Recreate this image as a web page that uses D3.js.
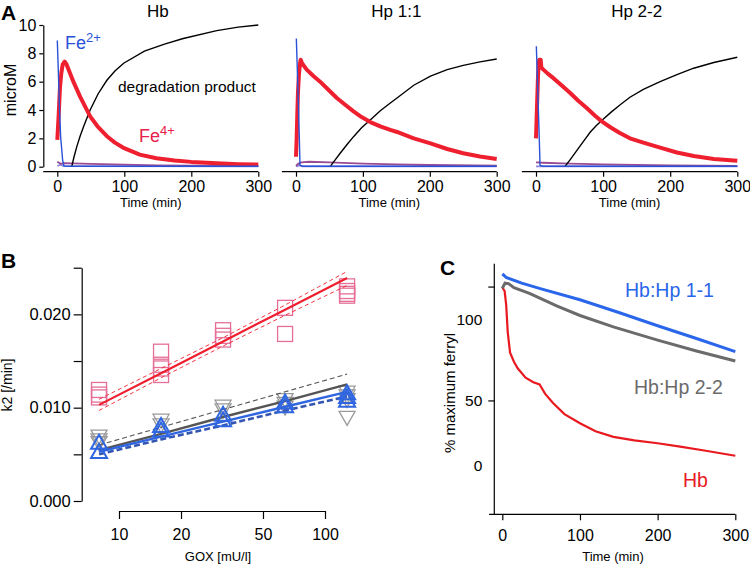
<!DOCTYPE html>
<html><head><meta charset="utf-8">
<script src="https://cdn.jsdelivr.net/npm/d3@7"></script>
<style>
body{margin:0;background:#fff}
svg{display:block}
text{font-family:"Liberation Sans",Arial,sans-serif}
</style>
</head><body>
<svg id="c" width="750" height="565"></svg>
<script>
// ---------- Panel A data (time in min, concentration in microM) ----------
const aTicksX = [0, 100, 200, 300];
const aTicksY = [0, 2, 4, 6, 8, 10];
const aTitles = ["Hb", "Hp 1:1", "Hp 2-2"];

const hbFe2 = [[0,8.9],[1.5,6.8],[3,4.5],[5,2.1],[8,0.45],[10,0.05],[20,0.03],[300,0.03]];
const hbFe4 = [[0,1.9],[2,3.6],[4,5.6],[6,6.6],[8,7.2],[11,7.42],[14,7.2],[19,6.6],[24,6.0],[34,4.95],[49,3.55],[60,2.85],[74,2.15],[86,1.7],[98,1.35],[123,0.85],[148,0.6],[175,0.44],[200,0.34],[238,0.24],[270,0.18],[300,0.15]];
const hbDeg = [[21.5,0],[25,0.7],[29,1.4],[34,2.15],[39,2.8],[49,4.0],[61,5.15],[74,6.1],[86,6.75],[99,7.3],[130,8.15],[160,8.65],[188,9.05],[238,9.6],[270,9.85],[300,10.0]];
const hbPur = [[0,0.35],[5,0.2],[10,0.25],[50,0.2],[100,0.14],[150,0.1],[200,0.08],[300,0.05]];
const hbLil = [[0,0.05],[5,0.14],[10,0.04],[300,0.02]];

const h11Fe2 = [[0.5,9.05],[2,6.8],[3.5,4.5],[5,2.0],[6,0.1],[10,0.03],[300,0.03]];
const h11Fe4 = [[0,0.7],[1,2.0],[2,3.8],[3,5.3],[4.5,6.6],[6,7.3],[7,7.55],[9,7.3],[16,6.85],[26,6.4],[36,6.0],[48,5.45],[61,4.85],[74,4.35],[86,3.9],[98,3.5],[111,3.15],[126,2.85],[141,2.6],[151,2.45],[176,2.0],[201,1.65],[226,1.25],[250,0.95],[275,0.72],[300,0.55]];
const h11Deg = [[51,0],[58,0.45],[66,0.95],[76,1.55],[86,2.12],[98,2.75],[111,3.3],[126,3.95],[141,4.5],[151,4.85],[176,5.75],[201,6.4],[226,6.85],[250,7.15],[275,7.4],[300,7.6]];
const h11Pur = [[0,0.05],[3,0.2],[8,0.3],[20,0.35],[50,0.3],[100,0.22],[150,0.16],[200,0.12],[300,0.08]];
const h11Lil = [[0,0.02],[5,0.1],[10,0.02],[300,0.02]];

const h22Fe2 = [[0.5,8.5],[2,6.3],[3.5,4.1],[5,1.8],[6,0.1],[10,0.03],[300,0.03]];
const h22Fe4 = [[0,2.0],[1,3.5],[2,5.0],[3,6.4],[4,7.3],[5,7.55],[7,7.55],[8,7.0],[11,6.85],[18,6.55],[26,6.25],[38,5.75],[51,5.2],[63,4.65],[76,4.12],[88,3.6],[98,3.2],[112,2.75],[125,2.38],[140,2.0],[160,1.7],[185,1.35],[210,1.0],[235,0.75],[265,0.55],[300,0.42]];
const h22Deg = [[43,0],[51,0.5],[61,1.15],[71,1.8],[81,2.45],[90,2.9],[100,3.35],[112,3.85],[125,4.35],[140,4.9],[160,5.45],[185,6.0],[210,6.5],[235,6.95],[265,7.35],[300,7.72]];
const h22Pur = [[0,0.3],[10,0.28],[50,0.22],[100,0.16],[200,0.09],[300,0.05]];
const h22Lil = [[0,0.02],[300,0.02]];

// ---------- Panel B data ----------
const gox = [8, 16, 32, 64, 128];
const bTicksX = [10, 20, 50, 100];
const bTicksY = [0, 0.005, 0.010, 0.015, 0.020, 0.025];
const bLabelsY = [0, 0.010, 0.020];
const hbK2 = [[0.0119,0.0114,0.0111],[0.0160,0.0146,0.0142,0.0135],[0.0183,0.0177,0.0173],[0.0207,0.0179],[0.0230,0.0225,0.0222,0.0220]];
const hp22K2 = [[0.0071,0.0067,0.0064],[0.0088,0.0083],[0.0103,0.0099],[0.0110,0.0106,0.0102],[0.0118,0.0114,0.0110,0.0091]];
const hp11K2 = [[0.0061,0.0051],[0.0079,0.0074],[0.0091,0.0085],[0.0104,0.0100],[0.0114,0.0110,0.0106]];
const hbFit = [0.0103,0.0137,0.0171,0.0205,0.0239];
const hbFitUp = [0.0109,0.0142,0.0175,0.0210,0.0246];
const hbFitLo = [0.0097,0.0132,0.0166,0.0199,0.0231];
const hp22Fit = [0.00546,0.0072,0.0090,0.0107,0.0125];
const hp22FitUp = [0.0060,0.0079,0.0098,0.0117,0.0136];
const hp11Fit = [0.00528,0.0069,0.0085,0.0101,0.0117];
const hp11FitLo = [0.0050,0.0066,0.0081,0.0097,0.0112];

// ---------- Panel C data (% maximum ferryl) ----------
const cTicksX = [0, 100, 200, 300];
const cTicksY = [100, 50, 0];
const cHp11 = [[0,105.5],[2,105],[5,104],[25,101.5],[50,99],[100,94.2],[150,88.6],[200,82.8],[250,77.2],[300,71.4]];
const cHp22 = [[0,99.3],[3.5,101.5],[8,101.3],[15,99.5],[35,97],[70,91.5],[100,87.3],[143,82.3],[200,76.5],[250,71.7],[300,67.3]];
const cHb = [[0,99.7],[3,98],[5,92],[7,80],[10,71],[15,67],[20,64],[30,60],[40,58],[48,57],[55,53],[65,49],[80,44],[100,40],[120,36.5],[143,34],[170,32.5],[200,31.2],[229,29.7],[260,28],[300,25.7]];

// ---------- drawing ----------
const svg = d3.select("#c");
const C = {blue:"#2a52d8", red:"#ee1f2f", black:"#000", pur:"#9a4b92", lil:"#8c86e0",
  pink:"#e56f98", grey:"#9a9a9a", dgrey:"#555", bblue:"#2f66e0", dblue:"#3456b0",
  cblue:"#2a66ea", cgrey:"#6b6b6b", cred:"#e8191f"};

function styleAxis(g, fs){
  g.selectAll("path,line").attr("stroke","#000").attr("stroke-width",1.2);
  g.selectAll("text").attr("font-size",fs).attr("fill","#000").attr("font-family",'"Liberation Sans",Arial,sans-serif');
}

// Panel A
const yA = d3.scaleLinear().domain([0,10]).range([166.7,25]);
const aRanges = [[57.3,258.3],[296,496.7],[536,737.3]];
const aSeries = [
  {fe2:hbFe2, fe4:hbFe4, deg:hbDeg, pur:hbPur, lil:hbLil},
  {fe2:h11Fe2, fe4:h11Fe4, deg:h11Deg, pur:h11Pur, lil:h11Lil},
  {fe2:h22Fe2, fe4:h22Fe4, deg:h22Deg, pur:h22Pur, lil:h22Lil}
];
aRanges.forEach((r,i)=>{
  const x = d3.scaleLinear().domain([0,300]).range(r);
  const gx = svg.append("g").attr("transform","translate(0,171.7)")
    .call(d3.axisBottom(x).tickValues(aTicksX).tickSize(5).tickSizeOuter(0).tickPadding(4));
  gx.select(".domain").attr("d",`M${x(-21)},0H${x(300)}`);
  styleAxis(gx,16);
  svg.append("text").attr("x",(x(0)+x(300))/2).attr("y",17).attr("text-anchor","middle")
    .attr("font-size",17).text(aTitles[i]);
  svg.append("text").attr("x",(x(-21)+x(300))/2).attr("y",207).attr("text-anchor","middle")
    .attr("font-size",13).text("Time (min)");
  const line = d3.line().x(d=>x(d[0])).y(d=>yA(d[1]));
  const s = aSeries[i];
  svg.append("path").attr("d",line(s.lil)).attr("fill","none").attr("stroke",C.lil).attr("stroke-width",1.8);
  svg.append("path").attr("d",line(s.pur)).attr("fill","none").attr("stroke",C.pur).attr("stroke-width",1.8);
  svg.append("path").attr("d",line(s.deg)).attr("fill","none").attr("stroke",C.black).attr("stroke-width",1.4);
  svg.append("path").attr("d",line(s.fe4)).attr("fill","none").attr("stroke",C.red).attr("stroke-width",4).attr("stroke-linejoin","round");
  svg.append("path").attr("d",line(s.fe2)).attr("fill","none").attr("stroke",C.blue).attr("stroke-width",1.4);
  if(i===0){
    const gy = svg.append("g").attr("transform","translate(43.3,0)")
      .call(d3.axisLeft(yA).tickValues(aTicksY).tickSize(4).tickSizeOuter(0).tickPadding(3));
    styleAxis(gy,16);
    svg.append("text").attr("transform","translate(16,90) rotate(-90)").attr("text-anchor","middle")
      .attr("font-size",16).text("microM");
    const t1 = svg.append("text").attr("x",65).attr("y",49).attr("font-size",18).attr("fill",C.blue);
    t1.append("tspan").text("Fe");
    t1.append("tspan").attr("font-size",13).attr("dy",-7).text("2+");
    svg.append("text").attr("x",118).attr("y",92).attr("font-size",15.5).text("degradation product");
    const t2 = svg.append("text").attr("x",139).attr("y",142).attr("font-size",18).attr("fill","#e8204a");
    t2.append("tspan").text("Fe");
    t2.append("tspan").attr("font-size",13).attr("dy",-7).text("4+");
  }
});
svg.append("text").attr("x",1).attr("y",20).attr("font-size",21).attr("font-weight","bold").text("A");

// Panel B
const xB = d3.scaleLog().domain([10,100]).range([119,325]);
const yB = d3.scaleLinear().domain([0,0.025]).range([501,267.7]);
const gyB = svg.append("g").attr("transform","translate(81.7,0)")
  .call(d3.axisLeft(yB).tickValues(bTicksY).tickSize(8).tickSizeOuter(0).tickPadding(3)
    .tickFormat(d=> bLabelsY.some(v=>Math.abs(v-d)<1e-9) ? d3.format(".3f")(d) : ""));
styleAxis(gyB,16.5);
const gxB = svg.append("g").attr("transform","translate(0,511)")
  .call(d3.axisBottom(xB).tickValues(bTicksX).tickSize(8).tickSizeOuter(0).tickPadding(10).tickFormat(d3.format("d")));
styleAxis(gxB,16);
svg.append("text").attr("x",218).attr("y",561).attr("text-anchor","middle").attr("font-size",13).text("GOX [mU/l]");
svg.append("text").attr("transform","translate(12,385) rotate(-90)").attr("text-anchor","middle")
  .attr("font-size",14).text("k2 [/min]");
svg.append("text").attr("x",1).attr("y",268).attr("font-size",21).attr("font-weight","bold").text("B");

const lineB = arr => d3.line().x((d,i)=>xB(gox[i])).y(d=>yB(d))(arr);
function fitLine(arr,color,w,dash){
  svg.append("path").attr("d",lineB(arr)).attr("fill","none").attr("stroke",color)
    .attr("stroke-width",w).attr("stroke-dasharray",dash||null);
}
const tri = (w,h)=>`M0,${-h*2/3}L${w/2},${h/3}L${-w/2},${h/3}Z`;
hp22K2.forEach((vals,i)=>vals.forEach(v=>{
  svg.append("path").attr("d",tri(16,14)).attr("transform",`translate(${xB(gox[i])},${yB(v)}) rotate(180)`)
    .attr("fill","none").attr("stroke",C.grey).attr("stroke-width",1.3);
}));
hbK2.forEach((vals,i)=>vals.forEach(v=>{
  svg.append("rect").attr("x",xB(gox[i])-7.5).attr("y",yB(v)-7.5).attr("width",15).attr("height",15)
    .attr("fill","none").attr("stroke",C.pink).attr("stroke-width",1.3);
}));
fitLine(hbFitUp,C.red,0.9,"4,3");
fitLine(hbFitLo,C.red,0.9,"4,3");
fitLine(hbFit,C.red,2.2);
fitLine(hp22FitUp,C.dgrey,1.1,"5,3");
fitLine(hp22Fit,C.dgrey,2.4);
fitLine(hp11FitLo,C.dblue,2.6,"6,3");
fitLine(hp11Fit,C.bblue,2.4);
hp11K2.forEach((vals,i)=>vals.forEach(v=>{
  svg.append("path").attr("d",tri(16,14)).attr("transform",`translate(${xB(gox[i])},${yB(v)})`)
    .attr("fill","none").attr("stroke",C.bblue).attr("stroke-width",2);
}));

// Panel C
const xC = d3.scaleLinear().domain([0,300]).range([502.3,735.3]);
const yC = d3.scaleLinear().domain([0,110]).range([514.3,263.8]);
const gxC = svg.append("g").attr("transform","translate(0,514.3)")
  .call(d3.axisBottom(xC).tickValues(cTicksX).tickSize(6).tickSizeOuter(0).tickPadding(9));
gxC.select(".domain").attr("d",`M${xC(-17)},0H${xC(300)}`);
styleAxis(gxC,16);
const labelNudge = {100:33, 50:0, 0:-49};
const gyC = svg.append("g").attr("transform","translate(494.3,0)")
  .call(d3.axisLeft(yC).tickValues(cTicksY).tickSize(6).tickSizeOuter(0).tickPadding(6));
gyC.select(".domain").attr("d",`M0,${yC(0)}V${yC(110)}`);
gyC.selectAll(".tick").each(function(d){
  const t = d3.select(this);
  if(d===0) t.select("line").remove();
  t.select("text").attr("y",labelNudge[d]);
});
styleAxis(gyC,15.5);
svg.append("text").attr("x",613).attr("y",561).attr("text-anchor","middle").attr("font-size",13).text("Time (min)");
svg.append("text").attr("transform","translate(455,393) rotate(-90)").attr("text-anchor","middle")
  .attr("font-size",15).text("% maximum ferryl");
svg.append("text").attr("x",440).attr("y",275).attr("font-size",21).attr("font-weight","bold").text("C");
const lineC = d3.line().x(d=>xC(d[0])).y(d=>yC(d[1]));
svg.append("path").attr("d",lineC(cHb)).attr("fill","none").attr("stroke",C.cred).attr("stroke-width",2.2);
svg.append("path").attr("d",lineC(cHp22)).attr("fill","none").attr("stroke",C.cgrey).attr("stroke-width",3);
svg.append("path").attr("d",lineC(cHp11)).attr("fill","none").attr("stroke",C.cblue).attr("stroke-width",3);
svg.append("text").attr("x",625).attr("y",297).attr("font-size",19.5).attr("fill",C.cblue).text("Hb:Hp 1-1");
svg.append("text").attr("x",634).attr("y",394).attr("font-size",19.5).attr("fill",C.cgrey).text("Hb:Hp 2-2");
svg.append("text").attr("x",683).attr("y",487).attr("font-size",19.5).attr("fill",C.cred).text("Hb");
</script>
</body></html>
